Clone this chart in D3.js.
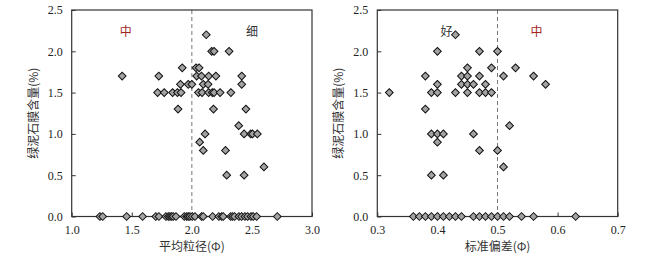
<!DOCTYPE html>
<html><head><meta charset="utf-8">
<script src="https://cdn.jsdelivr.net/npm/d3@7"></script>
<style>body{margin:0;background:#fff}</style>
</head><body>
<svg id="c" width="649" height="257"></svg>
<script>
// Left chart: mean grain size (Φ) vs chlorite coating content (%)
const leftX = [1.42,2.12,2.165,2.185,2.31,1.92,2.035,2.06,1.725,2.04,2.08,2.14,2.20,2.415,
  1.905,1.97,2.0,2.095,2.135,2.415,
  1.715,1.77,1.84,1.88,1.91,2.055,2.085,2.14,2.17,2.185,2.235,2.325,
  1.885,2.18,2.45,2.39,2.435,2.49,2.505,2.545,2.11,2.065,2.095,2.28,2.29,2.435,2.6,
  1.235,1.258,1.457,1.59,1.70,1.726,1.784,1.804,1.818,1.832,1.845,1.868,1.937,1.957,1.97,1.984,2.003,2.026,2.081,2.095,2.173,2.225,2.248,2.261,2.323,2.339,2.356,2.392,2.414,2.442,2.464,2.492,2.511,2.539,2.711];
const leftY = [1.7,2.2,2.0,2.0,2.0,1.8,1.8,1.8,1.7,1.7,1.7,1.7,1.7,1.7,
  1.6,1.6,1.6,1.6,1.6,1.6,
  1.5,1.5,1.5,1.5,1.5,1.5,1.5,1.5,1.5,1.5,1.5,1.5,
  1.3,1.3,1.3,1.1,1.0,1.0,1.0,1.0,1.0,0.9,0.8,0.8,0.5,0.5,0.6,
  0,0,0,0,0,0,0,0,0,0,0,0,0,0,0,0,0,0,0,0,0,0,0,0,0,0,0,0,0,0,0,0,0,0,0];
// Right chart: sorting (standard deviation, Φ) vs chlorite coating content (%)
const rightX = [0.32,0.38,0.38,0.39,0.40,0.40,0.40,0.43,0.43,0.44,0.44,0.45,0.45,0.45,0.45,0.46,0.47,0.47,0.47,0.48,0.48,0.49,0.49,0.50,0.51,0.53,0.56,0.58,0.52,
  0.39,0.40,0.41,0.40,0.46,0.47,0.50,0.51,0.39,0.41,
  0.36,0.37,0.38,0.39,0.40,0.41,0.42,0.43,0.44,0.46,0.47,0.48,0.49,0.50,0.51,0.52,0.54,0.56,0.63];
const rightY = [1.5,1.7,1.3,1.5,1.5,1.6,2.0,2.2,1.5,1.7,1.6,1.8,1.7,1.6,1.5,1.6,2.0,1.7,1.5,1.6,1.5,1.8,1.5,2.0,1.7,1.8,1.7,1.6,1.1,
  1.0,1.0,1.0,0.9,1.0,0.8,0.8,0.6,0.5,0.5,
  0,0,0,0,0,0,0,0,0,0,0,0,0,0,0,0,0,0,0];
const leftTicks = [1.0,1.5,2.0,2.5,3.0];
const rightTicks = [0.3,0.4,0.5,0.6,0.7];
const yTicks = [0.0,0.5,1.0,1.5,2.0,2.5];
const yTitle = "绿泥石膜含量(%)";
const leftTitle = "平均粒径(Φ)";
const rightTitle = "标准偏差(Φ)";
const leftLabels = [{t:"中", x:1.45, red:true},{t:"细", x:2.5, red:false}];
const rightLabels = [{t:"好", x:0.415, red:false},{t:"中", x:0.565, red:true}];

const svg = d3.select("#c");
const serif = "'Liberation Serif','Times New Roman',serif";
const cjk = "'Noto Sans CJK SC',sans-serif";

function panel(x0, x1, xDom, ticks, xs, ys, split, title, labels) {
  const x = d3.scaleLinear().domain(xDom).range([x0, x1]);
  const y = d3.scaleLinear().domain([0, 2.5]).range([216.5, 10]);
  const g = svg.append("g");
  // dashed divider
  g.append("line").attr("x1", x(split)).attr("x2", x(split)).attr("y1", y(2.5)).attr("y2", y(0))
    .attr("stroke", "#777").attr("stroke-dasharray", "4,3").attr("stroke-width", 1);
  // axes
  const xa = g.append("g").attr("transform", `translate(0,${y(0)})`)
    .call(d3.axisBottom(x).tickValues(ticks).tickFormat(d3.format(".1f")).tickSizeInner(-4).tickSizeOuter(0).tickPadding(9));
  const ya = g.append("g").attr("transform", `translate(${x0},0)`)
    .call(d3.axisLeft(y).tickValues(yTicks).tickFormat(d3.format(".1f")).tickSizeInner(-4).tickSizeOuter(0).tickPadding(9));
  [xa, ya].forEach(a => {
    a.select(".domain").remove();
    a.selectAll("line").attr("stroke", "#333");
    a.selectAll("text").attr("font-family", serif).attr("font-size", 12).attr("fill", "#222");
  });
  // frame
  g.append("rect").attr("x", x0).attr("y", y(2.5)).attr("width", x1 - x0).attr("height", y(0) - y(2.5))
    .attr("fill", "none").attr("stroke", "#333").attr("stroke-width", 1.2);
  // points
  const sym = d3.symbol(d3.symbolSquare, 30);
  g.selectAll("path.pt").data(xs.map((v, i) => [v, ys[i]])).join("path")
    .attr("class", "pt").attr("d", sym)
    .attr("transform", d => `translate(${x(d[0])},${y(d[1])}) rotate(45)`)
    .attr("fill", "#a3a3a3").attr("stroke", "#111").attr("stroke-width", 1);
  // region labels
  labels.forEach(l => {
    g.append("text").attr("x", x(l.x)).attr("y", 36).attr("text-anchor", "middle")
      .attr("font-family", cjk).attr("font-size", 12).attr("fill", l.red ? "#a3261e" : "#333").text(l.t);
  });
  // x title
  g.append("text").attr("x", (x0 + x1) / 2).attr("y", 251).attr("text-anchor", "middle")
    .attr("font-family", cjk).attr("font-size", 12).attr("fill", "#333").text(title);
  // y title
  g.append("text").attr("transform", `translate(${x0 - 34},${(y(0) + y(2.5)) / 2}) rotate(-90)`)
    .attr("text-anchor", "middle").attr("font-family", cjk).attr("font-size", 12).attr("fill", "#333").text(yTitle);
}
panel(71.7, 312, [1, 3], leftTicks, leftX, leftY, 2.0, leftTitle, leftLabels);
panel(377.3, 617.7, [0.3, 0.7], rightTicks, rightX, rightY, 0.5, rightTitle, rightLabels);
</script>
</body></html>
